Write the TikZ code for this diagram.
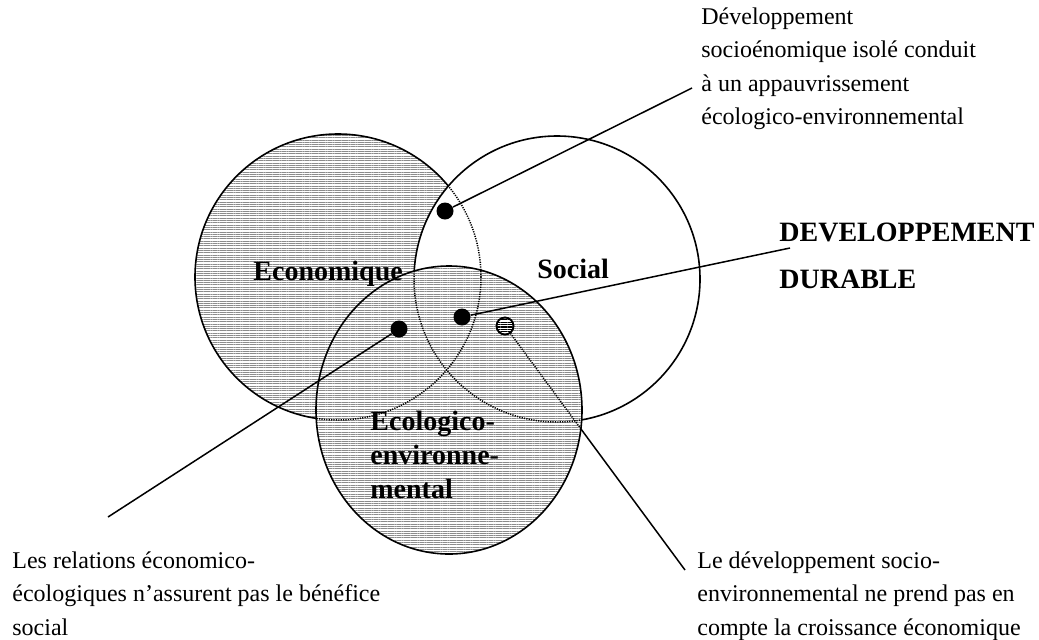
\documentclass[tikz,border=0pt]{standalone}
\usepackage{fontspec}
\setmainfont{Liberation Serif}
\usetikzlibrary{patterns.meta}

\begin{document}
\begin{tikzpicture}[x=0.5pt,y=-0.5pt,
    hachure/.style={pattern={Lines[angle=0,distance=1.15pt,line width=0.35pt]},pattern color=black!45},
    contour/.style={line width=0.8pt},
    cache/.style={line width=0.75pt,dash pattern=on 0.6pt off 0.6pt},
    lien/.style={line width=0.75pt},
    titre/.style={font=\bfseries\fontsize{14}{17}\selectfont,align=left,inner sep=0pt},
    legende/.style={font=\fontsize{12}{16.8}\selectfont,align=left,anchor=north west,inner sep=0pt},
    point/.style={circle,fill=black,minimum size=8.5pt,inner sep=0pt},
    pointraye/.style={circle,draw,line width=0.8pt,minimum size=8.5pt,inner sep=0pt,
      pattern={Lines[angle=0,distance=1.2pt,line width=0.65pt]}}]
  \useasboundingbox (0,0) rectangle (1039,639);
  % Economique
  \fill[hachure] (338,277) circle[radius=143];
  \draw[contour] (338,277) circle[radius=143];
  % Social
  \fill[white] (557,279) circle[radius=143];
  \draw[contour] (557,279) circle[radius=143];
  \begin{scope}
    \clip (557,279) circle[radius=143];
    \draw[cache] (338,277) circle[radius=143];
  \end{scope}
  % points et liens
  \node[point] (p_eco_soc) at (445,211) {};
  \node[point] (p_dd) at (462,317) {};
  \node[point] (p_eco_env) at (399,329) {};
  \node[pointraye] (p_soc_env) at (505,326) {};
  \coordinate (f_soc_env) at (685,570);
  \draw[lien] (p_soc_env) -- (f_soc_env);
  % Ecologico-environnemental
  \fill[white] (449,410) ellipse[x radius=133,y radius=144];
  \fill[hachure] (449,410) ellipse[x radius=133,y radius=144];
  \begin{scope}
    \clip (449,410) ellipse[x radius=133,y radius=144];
    \draw[cache] (338,277) circle[radius=143];
    \draw[cache] (557,279) circle[radius=143];
    \draw[cache] (p_soc_env) -- (f_soc_env);
  \end{scope}
  \draw[contour] (449,410) ellipse[x radius=133,y radius=144];
  \node[point] at (p_dd) {};
  \node[point] at (p_eco_env) {};
  \node[pointraye,fill=white] at (p_soc_env) {};
  \node[pointraye] at (p_soc_env) {};
  %
  \node[titre,anchor=base west] (eco) at (253,280) {Economique};
  \node[titre,anchor=base west] (soc) at (537,278) {Social};
  \node[titre,anchor=north west] (env) at (370,411) {Ecologico-\\environne-\\mental};
  \node[titre,anchor=north west,font=\bfseries\fontsize{14}{23.5}\selectfont] (dd) at (779,223) {DEVELOPPEMENT\\DURABLE};
  %
  \node[legende] (t_eco_soc) at (701,7) {Développement\\socioénomique isolé conduit\\à un appauvrissement\\écologico-environnemental};
  \node[legende] (t_eco_env) at (12,551) {Les relations économico-\\écologiques n’assurent pas le bénéfice\\social};
  \node[legende] (t_soc_env) at (697,551) {Le développement socio-\\environnemental ne prend pas en\\compte la croissance économique};
  %
  \coordinate (f_eco_soc) at (692,88);
  \coordinate (f_dd) at (790,248);
  \coordinate (f_eco_env) at (108,517);
  \draw[lien] (p_eco_soc) -- (f_eco_soc);
  \draw[lien] (p_dd) -- (f_dd);
  \draw[lien] (p_eco_env) -- (f_eco_env);
\end{tikzpicture}
\end{document}
